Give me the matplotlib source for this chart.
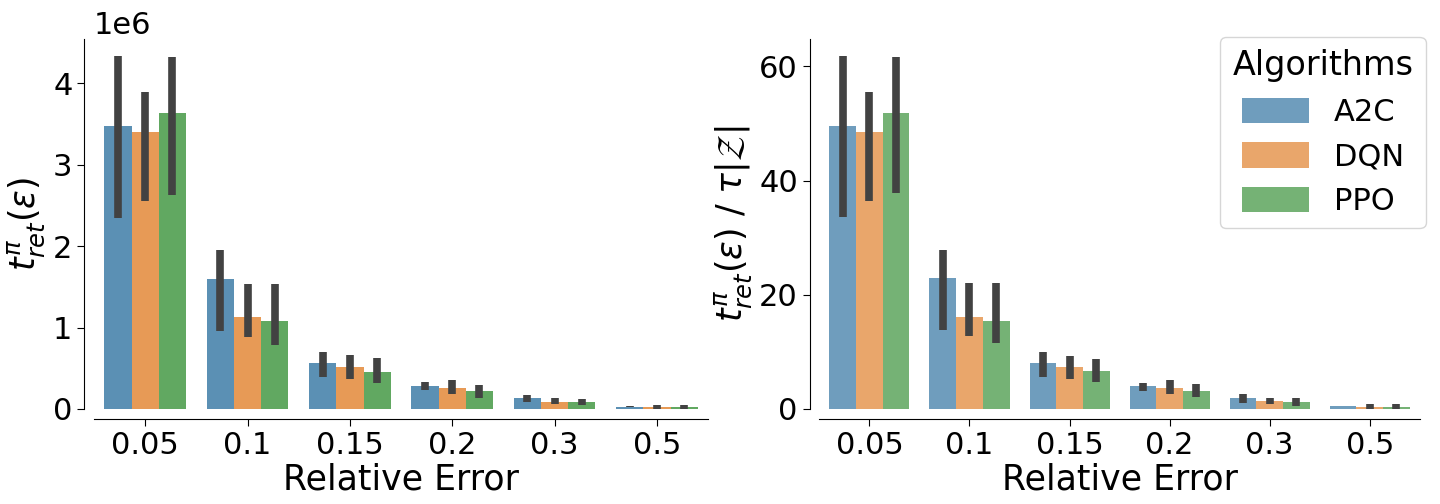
import numpy as np
import matplotlib
matplotlib.use("Agg")
import matplotlib.pyplot as plt
from matplotlib.colors import to_rgba

# relative error levels (x categories)
errors = ["0.05", "0.1", "0.15", "0.2", "0.3", "0.5"]
algos = ["A2C", "DQN", "PPO"]

# left panel: t_ret (raw steps), mean / ci low / ci high
t_mean = {
    "A2C": [3.47e6, 1.60e6, 0.57e6, 0.28e6, 0.14e6, 0.03e6],
    "DQN": [3.40e6, 1.13e6, 0.51e6, 0.26e6, 0.09e6, 0.02e6],
    "PPO": [3.63e6, 1.08e6, 0.46e6, 0.22e6, 0.08e6, 0.02e6],
}
t_lo = {
    "A2C": [2.35e6, 0.96e6, 0.39e6, 0.23e6, 0.08e6, 0.025e6],
    "DQN": [2.55e6, 0.88e6, 0.37e6, 0.18e6, 0.06e6, 0.00e6],
    "PPO": [2.63e6, 0.79e6, 0.32e6, 0.14e6, 0.05e6, 0.00e6],
}
t_hi = {
    "A2C": [4.33e6, 1.95e6, 0.70e6, 0.33e6, 0.17e6, 0.035e6],
    "DQN": [3.89e6, 1.54e6, 0.66e6, 0.35e6, 0.13e6, 0.05e6],
    "PPO": [4.32e6, 1.54e6, 0.62e6, 0.30e6, 0.12e6, 0.05e6],
}

# right panel: t_ret / (tau |Z|)
n_mean = {
    "A2C": [49.6, 22.9, 8.1, 4.0, 1.9, 0.5],
    "DQN": [48.5, 16.1, 7.3, 3.6, 1.4, 0.35],
    "PPO": [51.8, 15.4, 6.6, 3.2, 1.2, 0.35],
}
n_lo = {
    "A2C": [33.7, 13.8, 5.6, 3.2, 1.1, 0.45],
    "DQN": [36.5, 12.7, 5.3, 2.6, 0.8, 0.0],
    "PPO": [37.8, 11.5, 4.7, 2.1, 0.6, 0.0],
}
n_hi = {
    "A2C": [61.8, 27.9, 10.0, 4.6, 2.7, 0.55],
    "DQN": [55.6, 22.0, 9.3, 5.1, 2.0, 0.9],
    "PPO": [61.6, 22.0, 8.8, 4.3, 1.9, 0.9],
}

colors = ["#3274a1", "#e1812c", "#3a923a"]
err_color = "#424242"

plt.rcParams["font.family"] = "DejaVu Sans"


def draw(ax, mean, lo, hi, alpha):
    x = np.arange(len(errors))
    w = 0.8 / len(algos)
    for i, a in enumerate(algos):
        xs = x - 0.4 + w / 2 + i * w
        ax.bar(xs, mean[a], width=w, color=to_rgba(colors[i], alpha),
               label=a, linewidth=0)
        ax.vlines(xs, lo[a], hi[a], color=err_color, linewidth=5.5, zorder=3)
    ax.set_xticks(x)
    ax.set_xticklabels(errors)
    ax.set_xlim(-0.5, len(errors) - 0.5)
    ax.tick_params(labelsize=22, length=5)
    ax.set_xlabel("Relative Error", fontsize=25, labelpad=2)
    for s in ["top", "right"]:
        ax.spines[s].set_visible(False)
    ax.spines["left"].set_position(("outward", 7))
    ax.spines["bottom"].set_position(("outward", 7))


fig = plt.figure(figsize=(14.4, 5.04), dpi=100)
ax1 = fig.add_axes([0.0653, 0.1885, 0.4264, 0.735])
ax2 = fig.add_axes([0.569, 0.1885, 0.417, 0.735])

draw(ax1, t_mean, t_lo, t_hi, 0.8)
ax1.set_ylabel(r"$t^{\pi}_{ret}(\varepsilon)$", fontsize=25, labelpad=4)
ax1.yaxis.get_offset_text().set_fontsize(22)

draw(ax2, n_mean, n_lo, n_hi, 0.7)
ax2.set_ylabel(r"$t^{\pi}_{ret}(\varepsilon)$ / $\tau|\mathcal{Z}|$",
               fontsize=25, labelpad=4)
ax2.set_yticks([0, 20, 40, 60])
leg = ax2.legend(title="Algorithms", fontsize=22, title_fontsize=24,
                 loc="upper right", bbox_to_anchor=(1.035, 1.045),
                 handlelength=2.2, handleheight=0.9)

fig.savefig("out.png", dpi=100)
